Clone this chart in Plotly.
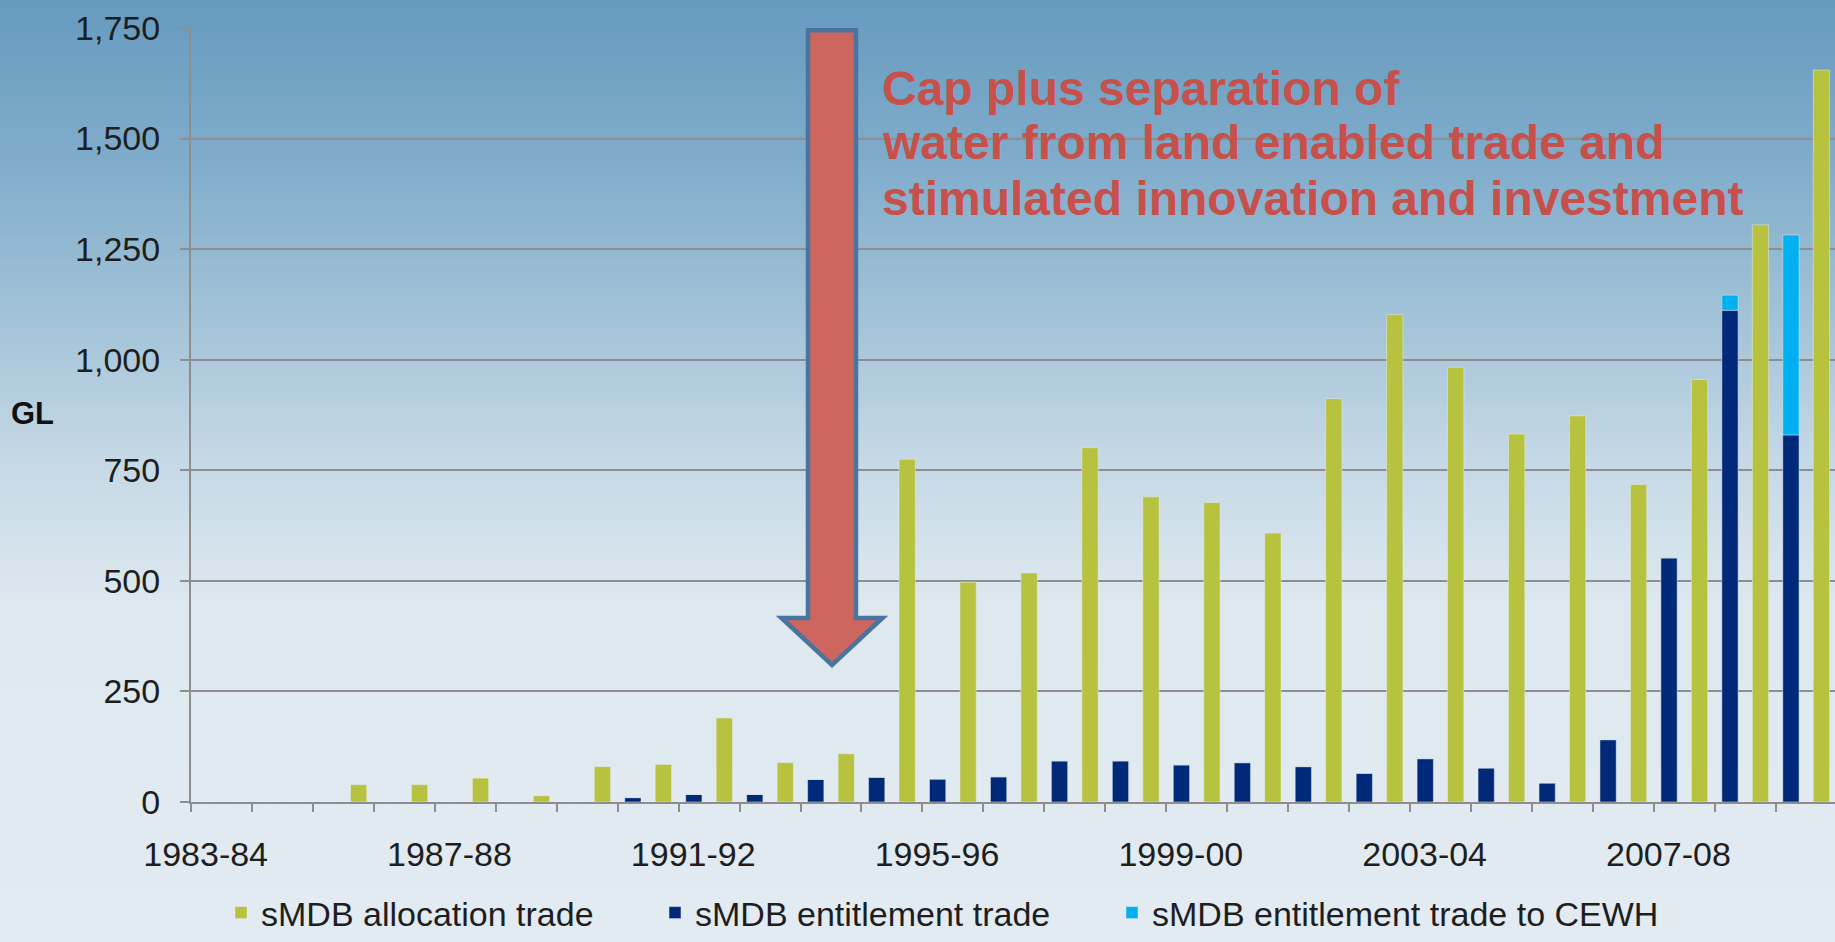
import plotly.graph_objects as go

# ---------------- data ----------------
years = ["1983-84", "1984-85", "1985-86", "1986-87", "1987-88", "1988-89", "1989-90",
         "1990-91", "1991-92", "1992-93", "1993-94", "1994-95", "1995-96", "1996-97",
         "1997-98", "1998-99", "1999-00", "2000-01", "2001-02", "2002-03", "2003-04",
         "2004-05", "2005-06", "2006-07", "2007-08", "2008-09", "2009-10"]
allocation = [0, 0, 39, 39, 54, 14, 80, 85, 190, 89, 109, 775, 497, 518, 801, 690,
              677, 608, 912, 1102, 983, 832, 873, 718, 955, 1305, 1655]
entitlement = [0, 0, 0, 0, 0, 0, 0, 10, 17, 17, 51, 56, 52, 57, 93, 93, 84, 89, 80,
               65, 98, 77, 43, 141, 552, 1112, 830]
cewh = [0] * 25 + [34, 452]
tick_labels = years[::4]
y_ticks = [0, 250, 500, 750, 1000, 1250, 1500, 1750]

names = ["sMDB allocation trade", "sMDB entitlement trade", "sMDB entitlement trade to CEWH"]
colors = ["#B7C23E", "#00297A", "#00B0F0"]
note_lines = ["Cap plus separation of",
              "water from land enabled trade and",
              "stimulated innovation and investment"]

W, H = 1835, 942
ML, MR, MT, MB = 191, 0, 28, 140
plot_w = W - ML - MR
plot_h = H - MT - MB
cat_px = 60.95
x_max = -0.5 + plot_w / cat_px

xi = list(range(len(years)))

fig = go.Figure()
fig.add_trace(go.Bar(x=xi, y=entitlement, name=names[1], marker_color=colors[1],
                     offsetgroup="ent", legend="legend2", customdata=years,
                     hovertemplate="%{customdata}: %{y}<extra></extra>"))
fig.add_trace(go.Bar(x=xi, y=allocation, name=names[0], marker_color=colors[0],
                     offsetgroup="alloc", legend="legend", customdata=years,
                     hovertemplate="%{customdata}: %{y}<extra></extra>"))
fig.add_trace(go.Bar(x=xi, y=cewh, base=entitlement, name=names[2], marker_color=colors[2],
                     offsetgroup="ent", legend="legend3", customdata=years,
                     hovertemplate="%{customdata}: %{y}<extra></extra>"))

# ---------------- background gradient (bands) ----------------
stops = [(0, (102, 155, 191)), (150, (126, 171, 202)), (300, (158, 192, 214)),
         (450, (195, 215, 229)), (600, (221, 232, 239)), (942, (226, 235, 241))]


def col_at(py):
    for (y0, c0), (y1, c1) in zip(stops[:-1], stops[1:]):
        if y0 <= py <= y1:
            t = (py - y0) / (y1 - y0)
            return tuple(round(a + (b - a) * t) for a, b in zip(c0, c1))
    return stops[-1][1]


def px_to_paper_y(py):
    return (H - MB - py) / plot_h


def px_to_paper_x(px):
    return (px - ML) / plot_w


shapes = []
step = 6
py = 0
while py < H:
    y_top = py
    y_bot = min(py + step, H)
    c = col_at((y_top + y_bot) / 2)
    shapes.append(dict(type="rect", xref="paper", yref="paper",
                       x0=px_to_paper_x(-5), x1=px_to_paper_x(W + 5),
                       y0=px_to_paper_y(y_bot + 0.6), y1=px_to_paper_y(y_top - (5 if py == 0 else 0)),
                       fillcolor="rgb(%d,%d,%d)" % c, line=dict(width=0), layer="below"))
    py += step

# ---------------- arrow ----------------
arrow_path = ("M 9.623,1745 L 10.41,1745 L 10.41,416 L 10.845,416 L 10.017,310 "
              "L 9.188,416 L 9.623,416 Z")
shapes.append(dict(type="path", xref="x", yref="y", path=arrow_path,
                   fillcolor="#CD665E", line=dict(color="#4A74A0", width=4.5),
                   layer="above"))

annotations = [
    dict(text="<b>GL</b>", xref="paper", yref="paper",
         x=px_to_paper_x(9), y=px_to_paper_y(413), xanchor="left", yanchor="middle",
         showarrow=False, font=dict(size=31, color="#111111")),
]
for line, cy in zip(note_lines, [88, 142, 198]):
    annotations.append(dict(text="<b>%s</b>" % line, xref="paper", yref="paper",
                            x=px_to_paper_x(880), y=px_to_paper_y(cy),
                            xanchor="left", yanchor="middle", align="left",
                            showarrow=False, font=dict(size=48, color="#C8504B")))


def legend_at(px_left):
    return dict(orientation="h", x=px_to_paper_x(px_left), xanchor="left",
                y=px_to_paper_y(884), yanchor="top", bgcolor="rgba(0,0,0,0)",
                font=dict(size=34, color="#1E1E1E"))


fig.update_layout(
    width=W, height=H,
    margin=dict(l=ML, r=MR, t=MT, b=MB, autoexpand=False),
    paper_bgcolor="#E1EBF1",
    plot_bgcolor="rgba(0,0,0,0)",
    barmode="group", bargap=0.0, bargroupgap=0.466,
    font=dict(family="Liberation Sans, Arial, sans-serif", size=34, color="#1E1E1E"),
    shapes=shapes,
    showlegend=True,
    legend=legend_at(221),
    legend2=legend_at(655),
    legend3=legend_at(1112),
    xaxis=dict(range=[-0.5, x_max], tickmode="array",
               tickvals=[i - 0.26 for i in xi[::4]], ticktext=tick_labels,
               ticks="", showgrid=False, zeroline=False,
               showline=True, linecolor="#8E8E8E", linewidth=2,
               ticklabelstandoff=21, tickfont=dict(size=34),
               minor=dict(tick0=-0.5, dtick=1, ticks="outside", ticklen=8,
                          tickcolor="#8E8E8E", tickwidth=2, showgrid=False)),
    yaxis=dict(range=[0, 1750], tickmode="array", tickvals=y_ticks, tickformat=",d",
               showgrid=True, gridcolor="#8E8E8E", gridwidth=2, zeroline=False,
               showline=True, linecolor="#8E8E8E", linewidth=2,
               ticks="outside", ticklen=9, tickcolor="#8E8E8E", tickwidth=2,
               ticklabelstandoff=13, tickfont=dict(size=34)),
    annotations=annotations,
)

fig.write_html("out.html", config={"displayModeBar": False},
               post_script="document.body.style.margin='0';"
                           "document.body.style.overflow='hidden';")
